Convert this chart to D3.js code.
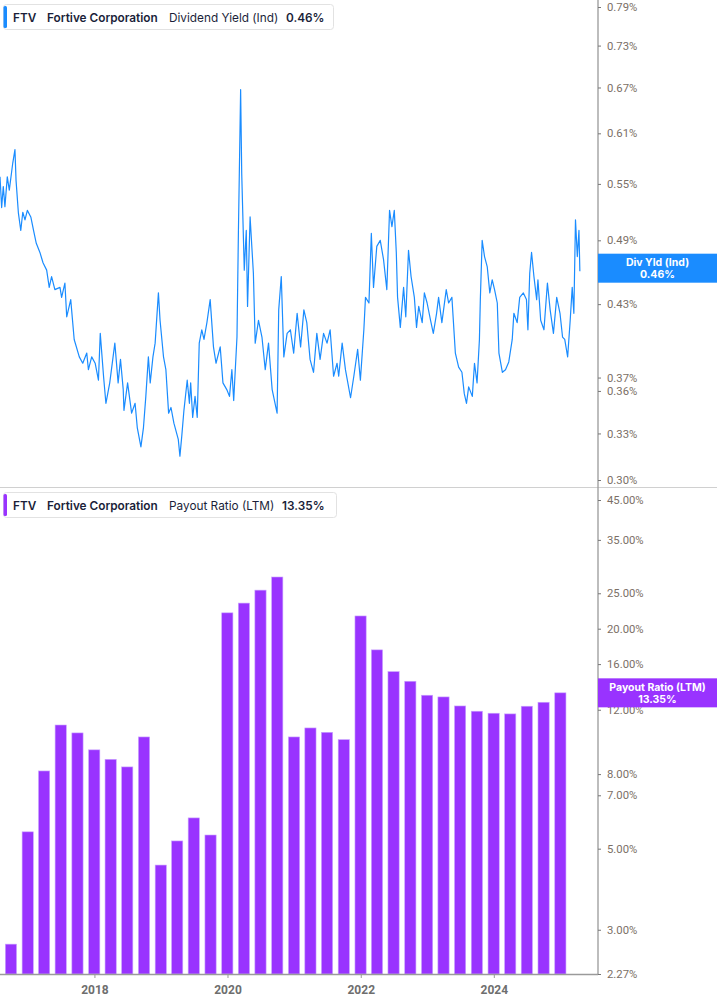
<!DOCTYPE html>
<html><head><meta charset="utf-8">
<script src="https://cdn.jsdelivr.net/npm/d3@7"></script>
<style>body{margin:0;background:#fff}svg{display:block}</style>
</head><body>
<svg id="c" width="717" height="1005"></svg>
<script>
// ---- Dividend yield (Ind), % ----
const yieldDates = [
"2016-08-01","2016-08-10","2016-08-19","2016-08-28","2016-09-10","2016-09-21","2016-10-10","2016-10-22","2016-10-28","2016-11-10",
"2016-11-23","2016-12-04","2016-12-16","2016-12-29","2017-01-17","2017-02-01","2017-02-16","2017-03-08","2017-03-25","2017-04-14",
"2017-04-28","2017-05-11","2017-05-29","2017-06-26","2017-07-05","2017-07-23","2017-08-02","2017-08-24","2017-09-12","2017-10-10",
"2017-10-29","2017-11-20","2017-11-29","2017-12-17","2018-01-05","2018-01-23","2018-02-02","2018-02-20","2018-03-05","2018-03-26",
"2018-04-23","2018-05-11","2018-05-24","2018-06-08","2018-06-12","2018-07-02","2018-07-24","2018-08-12","2018-08-24","2018-09-13",
"2018-09-27","2018-10-10","2018-10-24","2018-11-03","2018-11-18","2018-11-30","2018-12-18","2018-12-27","2019-01-15","2019-01-28",
"2019-02-12","2019-02-25","2019-03-13","2019-04-06","2019-04-15","2019-04-25","2019-05-07","2019-05-25","2019-06-06","2019-06-13",
"2019-06-24","2019-07-07","2019-07-19","2019-07-30","2019-08-13","2019-08-25","2019-09-10","2019-09-28","2019-10-16","2019-10-30",
"2019-11-22","2019-12-07","2019-12-28","2020-01-12","2020-01-25","2020-02-04","2020-02-22","2020-03-01","2020-03-13","2020-03-19",
"2020-04-02","2020-04-13","2020-04-20","2020-05-04","2020-05-22","2020-06-01","2020-06-19","2020-07-08","2020-07-26","2020-08-13",
"2020-09-02","2020-09-29","2020-10-08","2020-10-22","2020-11-05","2020-11-23","2020-12-11","2020-12-29","2021-01-17","2021-02-05",
"2021-02-23","2021-03-11","2021-03-29","2021-04-17","2021-05-05","2021-05-23","2021-06-11","2021-06-30","2021-07-17","2021-08-05",
"2021-08-24","2021-09-02","2021-09-21","2021-10-09","2021-11-06","2021-11-24","2021-12-15","2021-12-30","2022-01-18","2022-01-27",
"2022-02-15","2022-02-28","2022-03-12","2022-03-30","2022-04-18","2022-05-06","2022-05-24","2022-06-08","2022-06-21","2022-07-04",
"2022-07-15","2022-07-22","2022-08-06","2022-08-24","2022-09-05","2022-09-20","2022-10-04","2022-10-22","2022-11-03","2022-11-15",
"2022-12-04","2022-12-16","2022-12-31","2023-01-19","2023-02-03","2023-02-21","2023-03-04","2023-03-22","2023-04-15","2023-04-28",
"2023-05-16","2023-06-04","2023-06-22","2023-07-10","2023-07-23","2023-08-04","2023-08-16","2023-09-05","2023-09-17","2023-10-01",
"2023-10-14","2023-10-19","2023-10-29","2023-11-11","2023-11-26","2023-12-10","2023-12-23","2024-01-05","2024-01-20","2024-01-29",
"2024-02-17","2024-03-05","2024-03-23","2024-04-11","2024-04-20","2024-05-08","2024-05-22","2024-06-11","2024-06-28","2024-07-06",
"2024-07-16","2024-07-26","2024-08-08","2024-08-23","2024-08-30","2024-09-14","2024-10-02","2024-10-21","2024-11-05","2024-11-23",
"2024-12-11","2024-12-29","2025-01-12","2025-01-24","2025-02-09","2025-02-23","2025-03-06","2025-03-15","2025-03-24","2025-04-03",
"2025-04-12","2025-04-17"];
const yieldValues = [
0.558,0.524,0.547,0.525,0.558,0.543,0.574,0.590,0.554,0.518,
0.500,0.519,0.511,0.521,0.514,0.500,0.487,0.478,0.468,0.461,
0.445,0.455,0.443,0.445,0.436,0.449,0.419,0.434,0.400,0.386,
0.381,0.389,0.376,0.386,0.381,0.368,0.405,0.371,0.351,0.366,
0.397,0.366,0.384,0.361,0.346,0.366,0.344,0.351,0.334,0.321,
0.334,0.356,0.386,0.366,0.386,0.397,0.440,0.416,0.386,0.376,
0.344,0.348,0.337,0.326,0.315,0.328,0.346,0.368,0.351,0.366,
0.341,0.356,0.341,0.397,0.408,0.400,0.414,0.434,0.394,0.381,
0.394,0.366,0.361,0.356,0.376,0.353,0.402,0.500,0.667,0.562,
0.461,0.500,0.428,0.514,0.458,0.397,0.416,0.402,0.376,0.397,
0.361,0.344,0.425,0.455,0.386,0.405,0.408,0.389,0.422,0.394,
0.425,0.414,0.384,0.374,0.405,0.384,0.405,0.397,0.408,0.371,
0.381,0.371,0.397,0.376,0.355,0.371,0.392,0.368,0.408,0.436,
0.431,0.497,0.445,0.484,0.490,0.471,0.443,0.521,0.504,0.521,
0.478,0.436,0.410,0.445,0.419,0.480,0.455,0.436,0.410,0.428,
0.414,0.440,0.431,0.416,0.405,0.422,0.436,0.414,0.443,0.431,
0.436,0.389,0.378,0.374,0.358,0.351,0.363,0.356,0.381,0.366,
0.400,0.434,0.490,0.474,0.464,0.440,0.452,0.443,0.431,0.389,
0.374,0.376,0.382,0.400,0.422,0.414,0.436,0.440,0.434,0.408,
0.458,0.478,0.455,0.434,0.452,0.416,0.408,0.449,0.425,0.405,
0.436,0.422,0.402,0.400,0.386,0.416,0.445,0.422,0.511,0.474,
0.500,0.460];
const yieldTicks = [0.30,0.33,0.36,0.37,0.43,0.49,0.55,0.61,0.67,0.73,0.79];

// ---- Payout ratio (LTM), % ----
const payoutDates = [
"2016-09-30","2016-12-31","2017-03-31","2017-06-30","2017-09-30","2017-12-31","2018-03-31","2018-06-30","2018-09-30","2018-12-31",
"2019-03-31","2019-06-30","2019-09-30","2019-12-31","2020-03-31","2020-06-30","2020-09-30","2020-12-31","2021-03-31","2021-06-30",
"2021-09-30","2021-12-31","2022-03-31","2022-06-30","2022-09-30","2022-12-31","2023-03-31","2023-06-30","2023-09-30","2023-12-31",
"2024-03-31","2024-06-30","2024-09-30","2024-12-31"];
const payoutValues = [
2.74,5.56,8.16,10.9,10.37,9.32,8.78,8.37,10.11,4.51,
5.25,6.07,5.45,22.1,23.5,25.5,27.7,10.11,10.7,10.41,
9.94,21.67,17.5,15.26,14.36,13.15,13.01,12.29,11.89,11.74,
11.69,12.27,12.58,13.35];
const payoutTicks = [2.27,3,5,7,8,12,16,20,25,35,45];

const yearTicks = ["2018-01-01","2020-01-01","2022-01-01","2024-01-01"];

const parse = d3.utcParse("%Y-%m-%d");
const svg = d3.select("#c");
const W = 717, axisX = 598;
const blue = "#1a8cff", purple = "#9933ff";
const tickColor = "#7b6f66";

const x = d3.scaleUtc().domain([parse("2016-08-01"), parse("2025-07-20")]).range([0, 597]);
const yTop = d3.scaleLog().domain([0.30, 0.79]).range([480, 7]);
const yBot = d3.scaleLog().domain([2.27, 45]).range([974, 500]);

// panel separator
svg.append("line").attr("x1",0).attr("x2",W).attr("y1",487.5).attr("y2",487.5)
  .attr("stroke","#d0d0d0").attr("stroke-width",1);

// ---- top panel line ----
svg.append("clipPath").attr("id","clipTop").append("rect").attr("x",0).attr("y",0).attr("width",597).attr("height",487);
const lineData = yieldDates.map((d,i)=>({d:parse(d), v:yieldValues[i]}));
svg.append("path").datum(lineData).attr("clip-path","url(#clipTop)")
  .attr("fill","none").attr("stroke",blue).attr("stroke-width",1.2).attr("stroke-linejoin","round")
  .attr("d", d3.line().x(p=>x(p.d)).y(p=>yTop(p.v)));

// ---- bottom panel bars ----
const barW = 11.2;
svg.append("g").selectAll("rect").data(payoutDates.map((d,i)=>({d:parse(d), v:payoutValues[i]})))
  .join("rect")
  .attr("x", p=>x(p.d)-barW/2).attr("width", barW)
  .attr("y", p=>yBot(p.v)).attr("height", p=>974-yBot(p.v))
  .attr("fill", purple).attr("stroke","#c9a3ff").attr("stroke-width",0.6);

// ---- right axes ----
svg.append("line").attr("x1",axisX).attr("x2",axisX).attr("y1",0).attr("y2",975)
  .attr("stroke","#9a9a9a").attr("stroke-width",1.3);

function styleAxis(g){
  g.select(".domain").remove();
  g.selectAll(".tick line").attr("stroke","#777").attr("stroke-width",1);
  g.selectAll(".tick text").attr("fill",tickColor).attr("font-family","Roboto, 'Liberation Sans', sans-serif")
    .attr("font-size",11.3).attr("x",9);
}
svg.append("g").attr("transform",`translate(${axisX},0)`)
  .call(d3.axisRight(yTop).tickValues(yieldTicks).tickFormat(v=>v.toFixed(2)+"%").tickSize(3))
  .call(styleAxis);
svg.append("g").attr("transform",`translate(${axisX},0)`)
  .call(d3.axisRight(yBot).tickValues(payoutTicks).tickFormat(v=>v.toFixed(2)+"%").tickSize(3))
  .call(styleAxis);

// ---- bottom x axis ----
const xa = svg.append("g").attr("transform","translate(0,974)")
  .call(d3.axisBottom(x).tickValues(yearTicks.map(parse)).tickFormat(d3.utcFormat("%Y")).tickSize(4).tickSizeOuter(0));
xa.select(".domain").attr("stroke","#9a9a9a").attr("stroke-width",1.3).attr("d","M0,0.5H598");
xa.selectAll(".tick line").attr("stroke","#999");
xa.selectAll(".tick text").attr("fill","#6e6e6e").attr("font-family","Roboto, 'Liberation Sans', sans-serif")
  .attr("font-size",12).attr("font-weight","bold").attr("dy","1.05em");

// ---- last value labels ----
function valueTag(yc, color, l1, l2){
  const g = svg.append("g");
  g.append("rect").attr("x",axisX).attr("y",yc-14.5).attr("width",W-axisX).attr("height",29).attr("fill",color);
  g.append("text").attr("x",(axisX+W)/2).attr("y",yc-2).attr("text-anchor","middle").attr("fill","#fff")
    .attr("font-family","Inter, 'Noto Sans', sans-serif").attr("font-size",10.5).attr("font-weight","bold").text(l1);
  g.append("text").attr("x",(axisX+W)/2).attr("y",yc+10).attr("text-anchor","middle").attr("fill","#fff")
    .attr("font-family","Inter, 'Noto Sans', sans-serif").attr("font-size",10.5).attr("font-weight","bold").text(l2);
}
valueTag(yTop(yieldValues[yieldValues.length-1])-3, blue, "Div Yld (Ind)", "0.46%");
valueTag(yBot(payoutValues[payoutValues.length-1]), purple, "Payout Ratio (LTM)", "13.35%");

// ---- legends ----
function legend(y0, w, color, metric, val, xMetric, xVal){
  const g = svg.append("g");
  g.append("rect").attr("x",3.5).attr("y",y0+0.5).attr("width",w).attr("height",25).attr("rx",3)
    .attr("fill","#fff").attr("stroke","#e2e2e2");
  g.append("rect").attr("x",3.5).attr("y",y0+2).attr("width",3.5).attr("height",22).attr("rx",1.5).attr("fill",color);
  const t = (xx, s, bold) => g.append("text").attr("x",xx).attr("y",y0+17.5)
    .attr("font-family","Inter, 'Noto Sans', sans-serif").attr("font-size",11.8)
    .attr("font-weight", bold ? 600 : 400).attr("fill","#1b1f3a").text(s);
  t(13,"FTV",true);
  t(47,"Fortive Corporation",true);
  t(xMetric,metric,false);
  t(xVal,val,true);
}
legend(4, 330, blue, "Dividend Yield (Ind)", "0.46%", 169, 286);
legend(492, 333, purple, "Payout Ratio (LTM)", "13.35%", 169, 282);
</script>
</body></html>
